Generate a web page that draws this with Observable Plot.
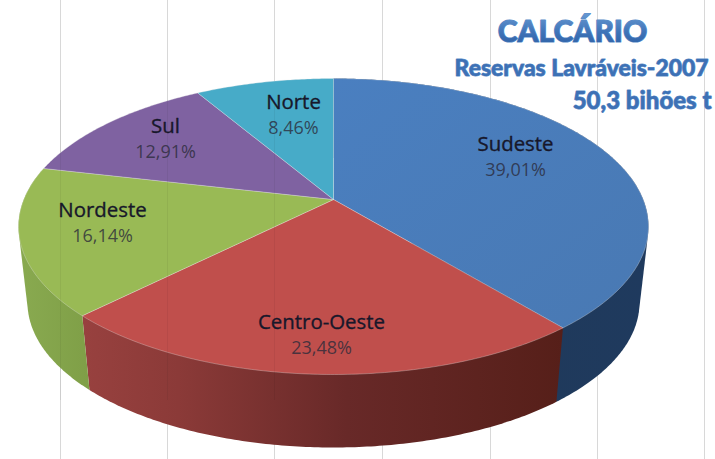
<!DOCTYPE html>
<html>
<head>
<meta charset="utf-8">
<script src="https://cdn.jsdelivr.net/npm/d3@7"></script>
<script src="https://cdn.jsdelivr.net/npm/@observablehq/plot@0.6"></script>
<style>html,body{margin:0;padding:0;background:#fff}svg{display:block}</style>
</head>
<body>
<div id="chart"></div>
<script>
// data, clockwise from twelve o'clock
const regions = ["Sudeste", "Centro-Oeste", "Nordeste", "Sul", "Norte"];
const shares = [39.01, 23.48, 16.14, 12.91, 8.46];
const shareLabels = ["39,01%", "23,48%", "16,14%", "12,91%", "8,46%"];
const titleLines = ["CALCÁRIO", "Reservas Lavráveis-2007", "50,3 bihões t"];
const gridLines = [60, 167, 274, 382, 490, 597, 704];

// layout
const topFills = ["url(#faceBlue)", "#c04f4c", "#99ba55", "#7f62a1", "#47abc8"];
const sideFills = ["url(#sideBlue)", "url(#sideRed)", "url(#sideGreen)", null, null];
const labelAnchors = [[515, 144], [321, 322], [102, 210], [165, 126], [293, 102]];
const topRim = {cx: 333, cy: 226, rx: 315, ry: 148};
const bottomRim = {cx: 333, cy: 302, rx: 306, ry: 145};
const tilt = -0.182; // perspective shift of the pie centre inside the rim

// a true pie angle -> a point on the perspective rim (unit disc mapping)
function disc(theta) {
  const u = Math.sin(theta), v = -Math.cos(theta);
  const d = 1 + tilt * v;
  return [u * Math.sqrt(1 - tilt * tilt) / d, (v + tilt) / d];
}
const onRim = (rim, p) => ({x: rim.cx + rim.rx * p[0], y: rim.cy + rim.ry * p[1]});
const centre = onRim(topRim, [0, tilt]);

const total = d3.sum(shares);
let acc = 0;
const slices = regions.map((name, i) => {
  const a0 = acc / total * 2 * Math.PI;
  acc += shares[i];
  const a1 = acc / total * 2 * Math.PI;
  const n = Math.max(2, Math.ceil((a1 - a0) * 90));
  const arc = d3.range(n + 1).map(k => disc(a0 + (a1 - a0) * k / n));
  return {name, i, arc};
});

const faces = slices.map(s => {
  const pts = [centre, ...s.arc.map(p => onRim(topRim, p)), centre];
  return Plot.line(pts, {x: "x", y: "y", fill: topFills[s.i], stroke: "#e8e8e8", strokeOpacity: 0.4, strokeWidth: 0.8});
});
// the wall of a slice: everything swept between its top and bottom rim; the faces cover the inner part
const sides = slices.filter(s => sideFills[s.i]).map(s => {
  const all = [...s.arc.map(p => onRim(topRim, p)), ...s.arc.map(p => onRim(bottomRim, p))];
  const hull = d3.polygonHull(all.map(p => [p.x, p.y]));
  const pts = [...hull, hull[0]].map(([x, y]) => ({x, y}));
  return Plot.line(pts, {x: "x", y: "y", fill: sideFills[s.i], stroke: "none"});
});

const labelRows = regions.map((r, i) => ({
  name: r, pct: shareLabels[i], x: labelAnchors[i][0], y: labelAnchors[i][1]
}));

const defs = () => {
  const el = d3.create("svg:defs");
  el.html(`
   <linearGradient id="sideRed" x1="0" x2="1" y1="0" y2="0">
     <stop offset="0" stop-color="#98413f"/><stop offset="0.2" stop-color="#8b3a38"/>
     <stop offset="0.55" stop-color="#682928"/><stop offset="1" stop-color="#561f19"/>
   </linearGradient>
   <linearGradient id="sideGreen" x1="0" x2="1" y1="0" y2="0">
     <stop offset="0" stop-color="#89aa50"/><stop offset="1" stop-color="#7f9f47"/>
   </linearGradient>
   <linearGradient id="sideBlue" x1="0" x2="1" y1="0" y2="0">
     <stop offset="0" stop-color="#203957"/><stop offset="1" stop-color="#1f3a5e"/>
   </linearGradient>
   <linearGradient id="faceBlue" x1="0" x2="1" y1="0" y2="1">
     <stop offset="0" stop-color="#4a7fc0"/><stop offset="1" stop-color="#4979b3"/>
   </linearGradient>
   <linearGradient id="titleBlue" x1="0" x2="0" y1="0" y2="1">
     <stop offset="0" stop-color="#6a9bd3"/><stop offset="0.55" stop-color="#3f74b8"/><stop offset="1" stop-color="#2c5fa4"/>
   </linearGradient>`);
  return el.node();
};

const titleFont = "Lato, 'Open Sans', sans-serif";
const labelFont = "'Open Sans', sans-serif";
const chart = Plot.plot({
  width: 715,
  height: 459,
  margin: 0,
  style: {background: "#fff"},
  x: {domain: [0, 715], range: [0, 715], axis: null},
  y: {domain: [0, 459], range: [0, 459], axis: null},
  marks: [
    defs,
    Plot.ruleX(gridLines, {stroke: "#d8d8d8", strokeWidth: 1}),
    ...sides,
    ...faces,
    Plot.ruleX(gridLines.slice(0, 3), {y1: 100, y2: 400, stroke: "#000", strokeOpacity: 0.05, strokeWidth: 1}),
    Plot.text(labelRows, {x: "x", y: "y", text: "name",
      fontFamily: labelFont, fontSize: 20.4, fontWeight: 500, fill: "#17172a", stroke: "#17172a", strokeWidth: 0.35}),
    Plot.text(labelRows, {x: "x", y: d => d.y + 26, text: "pct",
      fontFamily: labelFont, fontSize: 18, fill: "#2b2b3a", fillOpacity: 0.8}),
    Plot.text([titleLines[0]], {x: [572], y: [32], text: d => d, fontFamily: titleFont, fontSize: 30, fontWeight: 900,
      fill: "url(#titleBlue)", stroke: "#5a8cc8", strokeWidth: 1.2}),
    Plot.text([titleLines[1]], {x: [708], y: [68], text: d => d, textAnchor: "end", fontFamily: titleFont, fontSize: 22.9, fontWeight: 900,
      fill: "#3d71b5", stroke: "#5f8fca", strokeWidth: 0.9}),
    Plot.text([titleLines[2]], {x: [711], y: [101], text: d => d, textAnchor: "end", fontFamily: titleFont, fontSize: 24, fontWeight: 900,
      fill: "#3d71b5", stroke: "#5f8fca", strokeWidth: 0.9})
  ]
});
document.getElementById("chart").append(chart);
</script>
</body>
</html>
